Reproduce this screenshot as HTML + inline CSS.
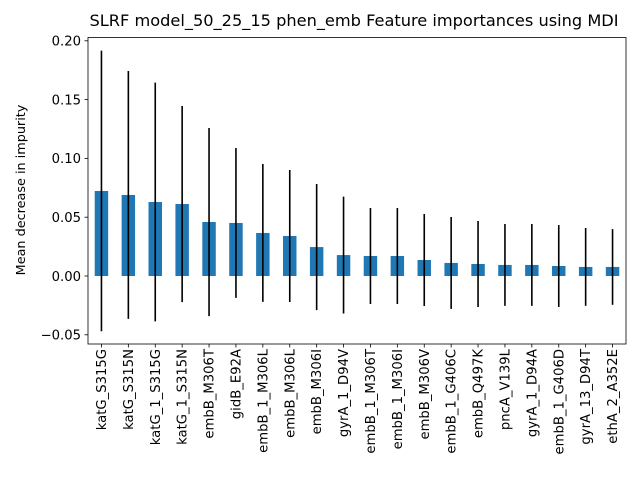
<!DOCTYPE html>
<html><head><meta charset="utf-8"><style>
body{margin:0;background:#fff;}
svg{display:block;font-family:"DejaVu Sans","Liberation Sans",sans-serif;}
</style></head><body>
<svg id="chart" width="640" height="480">
<text x="354" y="26" font-size="16.2" text-anchor="middle">SLRF model_50_25_15 phen_emb Feature importances using MDI</text>
<text transform="translate(25,190) rotate(-90)" font-size="12.8" text-anchor="middle">Mean decrease in impurity</text>
<g id="plot"></g>
</svg>
<script>
const categories=["katG_S315G","katG_S315N","katG_1_S315G","katG_1_S315N","embB_M306T","gidB_E92A","embB_1_M306L","embB_M306L","embB_M306I","gyrA_1_D94V","embB_1_M306T","embB_1_M306I","embB_M306V","embB_1_G406C","embB_Q497K","pncA_V139L","gyrA_1_D94A","embB_1_G406D","gyrA_13_D94T","ethA_2_A352E"];
const means=[0.0723,0.0689,0.0629,0.0612,0.0459,0.0451,0.0366,0.0340,0.0246,0.0178,0.0170,0.0170,0.0136,0.0111,0.0102,0.0094,0.0094,0.0085,0.0077,0.0077];
const stds=[0.1193,0.1054,0.1015,0.0834,0.0800,0.0637,0.0586,0.0561,0.0536,0.0497,0.0408,0.0408,0.0391,0.0391,0.0366,0.0348,0.0348,0.0349,0.0331,0.0322];
const yTicks=[-0.05,0.00,0.05,0.10,0.15,0.20];
const yTickLabels=["−0.05","0.00","0.05","0.10","0.15","0.20"];

const NS="http://www.w3.org/2000/svg";
const L=88,R=626,T=37.5,B=344;
const Y0=276,K=1176;
function y(v){return Y0-v*K;}
const step=(R-L)/categories.length;
function x(i){return L+step*(i+0.5);}
const g=document.getElementById('plot');
function mk(tag,attrs){const e=document.createElementNS(NS,tag);for(const k in attrs)e.setAttribute(k,attrs[k]);g.appendChild(e);return e;}

categories.forEach((c,i)=>{
  const bw=step*0.5;
  const top=y(Math.max(means[i],0)),bot=y(Math.min(means[i],0));
  const r=mk('rect',{x:x(i)-bw/2,y:top,width:bw,height:bot-top,fill:'#1f77b4'});
  
  
  const e=mk('line',{x1:x(i),x2:x(i),y1:y(means[i]+stds[i]),y2:y(means[i]-stds[i]),stroke:'#000','stroke-width':1.6});
  
  
  const t=mk('line',{x1:x(i),x2:x(i),y1:B,y2:B+3.5,stroke:'#000','stroke-width':0.8});
  
  
  const lb=mk('text',{transform:`translate(${x(i)+4.5},${B+5}) rotate(-90)`,'font-size':13.2,'text-anchor':'end'});
  lb.textContent=c;
  
  
});
yTicks.forEach((v,i)=>{
  const t=mk('line',{x1:L-3.5,x2:L,y1:y(v),y2:y(v),stroke:'#000','stroke-width':0.8});
  
  
  const lb=mk('text',{x:L-7,y:y(v)+4.8,'font-size':13.2,'text-anchor':'end'});
  lb.textContent=yTickLabels[i];
  
  
});
const fr=mk('rect',{x:L,y:T,width:R-L,height:B-T,fill:'none',stroke:'#000','stroke-width':0.8});


</script>
</body></html>
